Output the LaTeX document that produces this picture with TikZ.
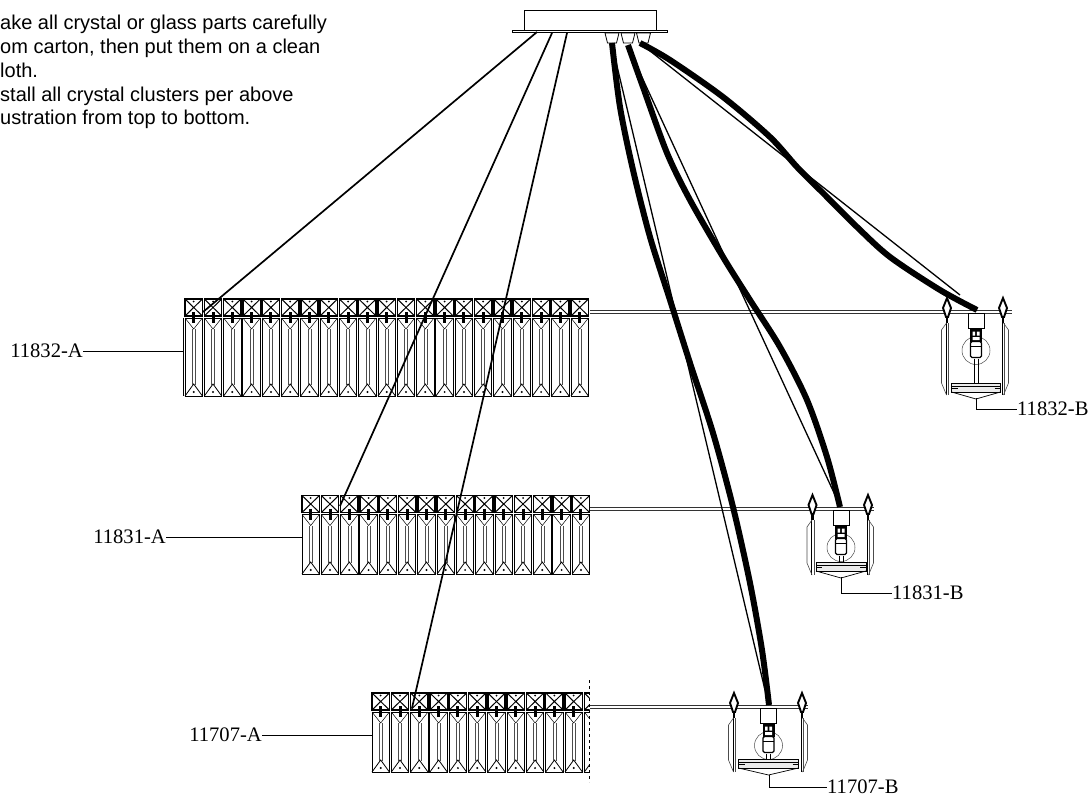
\documentclass[tikz,border=0pt]{standalone}
\usepackage{fontspec}
\setmainfont{Liberation Sans}
\newfontfamily\partfont{Liberation Serif}
\usetikzlibrary{positioning}
\tikzstyle{cable} = [line width=6pt, line cap=butt]
\tikzstyle{rod} = [line width=1.7pt]
\tikzstyle{wire} = [line width=1.3pt]
\tikzstyle{leader} = [line width=0.9pt]
\tikzstyle{partlabel} = [inner sep=0pt, font=\partfont\fontsize{20.6}{20.6}\selectfont]
\tikzstyle{note} = [inner sep=0pt, anchor=base west, font=\fontsize{20}{22}\selectfont]
\newcommand{\crystalrow}[4]{
    \foreach \i in {1,...,#3} {
        \pgfmathsetmacro{\xa}{#1+19.3*(\i-1)}
        \pgfmathsetmacro{\xc}{\xa+8.7}
        \pgfmathsetmacro{\xb}{\xa+17.4}
        \draw[line width=1.5pt] (\xa, #2) rectangle (\xb, #2+17);
        \draw[line width=1pt] (\xa, #2) -- (\xb, #2+17) (\xa, #2+17) -- (\xb, #2);
        \fill (\xc, #2+2.5) circle (1);
        \draw[line width=0.9pt] (\xa, #2+19) rectangle (\xb, #4);
        \draw[line width=0.5pt] (\xa, #2+19) -- (\xc, #2+30) -- (\xb, #2+19);
        \draw[line width=0.8pt] (\xa, #4) -- (\xc, #4-12) -- (\xb, #4);
        \draw[line width=0.5pt, black!70] (\xc-1.5, #2+30) -- (\xc-1.5, #4-11) (\xc+1.5, #2+30) -- (\xc+1.5, #4-11);
        \draw[line width=3pt] (\xc, #2+13) -- (\xc, #2+24);
        \fill (\xc, #4-4) circle (1.1);
    }
}
\newcommand{\finial}[4]{
    \draw[line width=1.9pt, fill=white] (#1, #2) -- (#1+4, #2+10) -- (#1+1, #2+19) -- (#1-1, #2+19) -- (#1-4, #2+10) -- cycle;
    \draw[line width=2.4pt] (#1, #2+19) -- (#1, #2+25);
    \draw[line width=0.7pt] (#1-1, #2+25) -- (#1-1, #3);
    \draw[line width=0.6pt, black!70] (#1+1.5, #2+25) -- (#1+1.5, #3);
    \draw[line width=0.6pt, black!70] (#1+#4*0.5, #2+25) -- (#1+#4*5.5, #2+32) -- (#1+#4*5.5, #3-12) -- (#1+#4*0.5, #3);
}
\newcommand{\pendant}[4]{
    \draw[line width=0.8pt] (#1-8, #2+2) rectangle (#1+8, #2+17);
    \draw[line width=0.5pt, black!70] (#1, #2+39) circle (14);
    \fill (#1-6, #2+17.5) rectangle (#1+6, #2+30);
    \fill[white] (#1-3.5, #2+20) rectangle (#1-0.8, #2+24) (#1+0.8, #2+20) rectangle (#1+3.5, #2+24) (#1-3.5, #2+25.5) rectangle (#1+3.5, #2+28.5);
    \draw[line width=1.2pt, fill=white, rounded corners=1.5pt] (#1-5.5, #2+30) rectangle (#1+5.5, #2+46);
    \draw[line width=0.8pt] (#1-5.5, #2+35) -- (#1+5.5, #2+35);
    \draw[line width=0.6pt] (#1-2, #2+47) -- (#1-2, #3) (#1+2, #2+47) -- (#1+2, #3);
    \draw[line width=0.6pt, fill=black!8] (#1-#4, #3) rectangle (#1+#4, #3+9);
    \draw[line width=0.8pt] (#1-#4, #3+3) -- (#1+#4, #3+3);
    \draw[line width=0.7pt] (#1-#4, #3+9) -- (#1, #3+16) -- (#1+#4, #3+9);
    \draw[line width=0.5pt] (#1-#4, #3+5.5) -- (#1-#4+6, #3+5.5) (#1+#4-6, #3+5.5) -- (#1+#4, #3+5.5);
}
\begin{document}
\begin{tikzpicture}[x=1pt, y=-1pt]
    \useasboundingbox (0, 0) rectangle (1090, 797);

    \node[note] (noteA) at (0, 30) {ake all crystal or glass parts carefully};
    \node[note] (noteB) at (0, 54) {om carton, then put them on a clean};
    \node[note] (noteC) at (0, 77.5) {loth.};
    \node[note] (noteD) at (0, 101.5) {stall all crystal clusters per above};
    \node[note] (noteE) at (0, 125) {ustration from top to bottom.};

    \draw[line width=0.9pt] (524, 31) -- (524, 10.5) -- (656, 10.5) -- (656, 31);
    \draw[line width=0.8pt, fill=white] (512, 30.5) rectangle (667, 32.5);
    \foreach \cupx in {612, 628, 643.5} {
        \draw[line width=0.8pt] (\cupx-7, 33) -- (\cupx-4.5, 43) -- (\cupx+4.5, 43) -- (\cupx+7, 33) -- cycle;
    }

    \draw[line width=0.8pt, black!80] (590, 310) -- (1012, 310) (590, 313) -- (1012, 313);
    \draw[line width=0.8pt, black!80] (590, 507) -- (874, 507) (590, 510) -- (874, 510);
    \draw[line width=0.8pt, black!80] (590, 705) -- (808, 705) (590, 708) -- (808, 708);

    \crystalrow{185}{299}{21}{396}
    \crystalrow{302}{495.5}{15}{574}
    \begin{scope}
        \clip (360, 680) rectangle (589.5, 790);
        \crystalrow{372}{693}{12}{772}
    \end{scope}
    \draw[line width=0.6pt, dashed] (589.5, 680) -- (589.5, 782);

    \finial{947}{298}{395}{-1}
    \finial{1003}{298}{395}{1}
    \pendant{976}{311.5}{383}{24.5}
    \finial{812.5}{495}{575}{-1}
    \finial{868}{495}{575}{1}
    \pendant{841}{508.5}{562}{25}
    \finial{734}{693}{772}{-1}
    \finial{802}{693}{772}{1}
    \pendant{768.5}{706.5}{759}{30}

    \draw[rod] (537, 32) -- (203, 312);
    \draw[rod] (552, 33) -- (340, 506);
    \draw[rod] (567, 33) -- (412, 708);

    \draw[wire] (612, 45) -- (765, 690);
    \draw[wire] (628, 47) -- (835, 495);
    \draw[wire] (645, 47) -- (960, 295);
    \draw[cable] plot[smooth] coordinates {(612, 43) (620, 107) (633, 170) (650, 237) (670, 300) (690, 363) (713, 433) (733, 507) (750, 583) (762, 650) (769, 705)};
    \draw[cable] plot[smooth] coordinates {(628, 45) (643, 87) (667, 153) (690, 200) (723, 257) (750, 300) (780, 347) (807, 400) (827, 457) (840, 507)};
    \draw[cable] plot[smooth] coordinates {(640, 43) (670, 60) (723, 97) (770, 137) (797, 167) (823, 193) (857, 227) (890, 257) (940, 290) (977, 310)};

    \node[partlabel, anchor=east] (labelA) at (83, 351) {11832-A};
    \coordinate (leadA) at (183, 351);
    \draw[leader] (labelA) -- (leadA);
    \draw[line width=0.6pt] (183, 318) -- (183, 396);
    \node[partlabel, anchor=east] (labelB) at (166, 537) {11831-A};
    \coordinate (leadB) at (302, 537);
    \draw[leader] (labelB) -- (leadB);
    \node[partlabel, anchor=east] (labelC) at (262, 735) {11707-A};
    \coordinate (leadC) at (372, 735);
    \draw[leader] (labelC) -- (leadC);

    \node[partlabel, anchor=west] (labelD) at (1017, 409) {11832-B};
    \coordinate (leadD) at (976, 398);
    \draw[leader] (leadD) |- (labelD);
    \node[partlabel, anchor=west] (labelE) at (892, 593) {11831-B};
    \coordinate (leadE) at (841, 577);
    \draw[leader] (leadE) |- (labelE);
    \node[partlabel, anchor=west] (labelF) at (827, 787) {11707-B};
    \coordinate (leadF) at (769, 775);
    \draw[leader] (leadF) |- (labelF);
\end{tikzpicture}
\end{document}
